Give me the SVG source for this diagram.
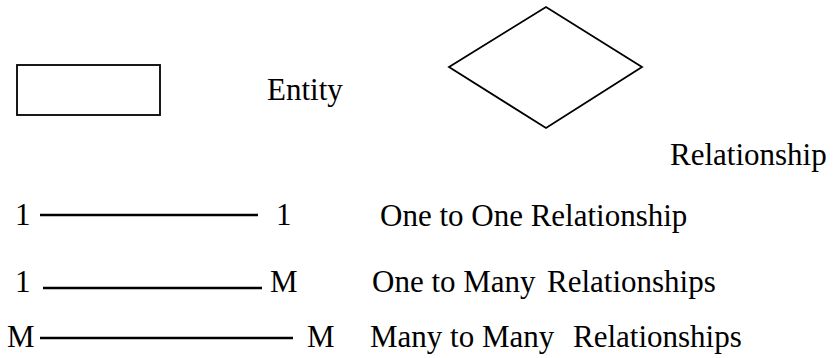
<svg xmlns="http://www.w3.org/2000/svg" width="833" height="358" viewBox="0 0 833 358">
  <style>
    text { font-family: 'Liberation Serif', 'DejaVu Serif', 'Times New Roman', serif; font-size: 31px; fill: #000; }
    .shape { fill: none; stroke: #000; stroke-width: 1.8; }
    .link { stroke: #000; stroke-width: 2.5; }
  </style>
  <rect width="833" height="358" fill="#fff"/>

  <!-- Entity symbol -->
  <g id="entity">
    <rect class="shape" x="17" y="65" width="143" height="50"/>
    <text x="267" y="100">Entity</text>
  </g>

  <!-- Relationship symbol -->
  <g id="relationship">
    <polygon class="shape" points="449,67 546,7 642,67 546,128"/>
    <text x="670" y="165">Relationship</text>
  </g>

  <!-- Cardinality lines -->
  <g id="connectors">
    <line class="link" x1="40" y1="215" x2="258" y2="215"/>
    <line class="link" x1="43" y1="288" x2="262" y2="288"/>
    <line class="link" x1="40" y1="338" x2="293" y2="338"/>
  </g>

  <g id="one-to-one">
    <text x="15" y="225">1</text>
    <text x="276" y="225">1</text>
    <text x="380" y="226">One to One Relationship</text>
  </g>

  <g id="one-to-many">
    <text x="15" y="292">1</text>
    <text x="270" y="292">M</text>
    <text x="372" y="292">One to Many</text>
    <text x="547" y="292">Relationships</text>
  </g>

  <g id="many-to-many">
    <text x="7" y="347">M</text>
    <text x="307" y="347">M</text>
    <text x="370" y="347">Many to Many</text>
    <text x="573" y="347">Relationships</text>
  </g>
</svg>
